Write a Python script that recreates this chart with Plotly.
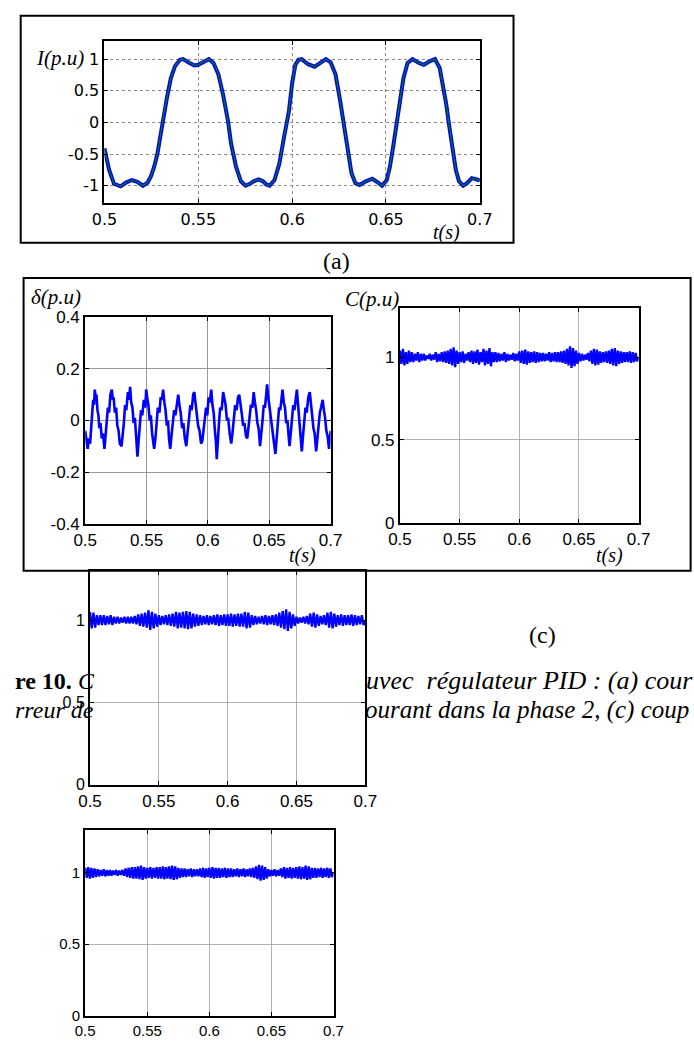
import numpy as np
import plotly.graph_objects as go

W, H = 694, 1057


def px(x):
    return x / W


def py(y):
    return 1 - y / H


# ---------------- data ----------------
# (a) phase current I (p.u)
I_T = [0.5000, 0.5025, 0.5051, 0.5086, 0.5115, 0.5145, 0.5175, 0.5205, 0.5230, 0.5248,
       0.5265, 0.5282, 0.5295, 0.5308, 0.5320, 0.5333, 0.5354, 0.5376, 0.5402, 0.5419,
       0.5453, 0.5479, 0.5500, 0.5521, 0.5556, 0.5581, 0.5595, 0.5607, 0.5632, 0.5658,
       0.5675, 0.5701, 0.5727, 0.5752, 0.5775, 0.5795, 0.5821, 0.5845, 0.5862, 0.5880,
       0.5906, 0.5932, 0.5957, 0.5983, 0.6000, 0.6017, 0.6034, 0.6051, 0.6085, 0.6120,
       0.6154, 0.6180, 0.6205, 0.6231, 0.6256, 0.6278, 0.6299, 0.6316, 0.6337, 0.6359,
       0.6393, 0.6427, 0.6462, 0.6479, 0.6504, 0.6521, 0.6538, 0.6556, 0.6573, 0.6593,
       0.6615, 0.6641, 0.6675, 0.6701, 0.6735, 0.6761, 0.6786, 0.6803, 0.6821, 0.6838,
       0.6855, 0.6872, 0.6889, 0.6911, 0.6932, 0.6957, 0.6983, 0.7000]
I_V = [-0.41, -0.75, -0.97, -1.01, -0.95, -0.91, -0.94, -1.00, -0.95, -0.85,
       -0.70, -0.50, -0.27, -0.01, 0.20, 0.39, 0.70, 0.89, 0.99, 1.00,
       0.94, 0.90, 0.91, 0.95, 1.00, 0.94, 0.86, 0.76, 0.44, 0.03,
       -0.34, -0.70, -0.93, -1.00, -0.97, -0.93, -0.90, -0.93, -0.98, -1.00,
       -0.91, -0.65, -0.23, 0.18, 0.62, 0.91, 0.99, 1.00, 0.92, 0.88,
       0.95, 1.00, 0.95, 0.76, 0.34, -0.08, -0.49, -0.80, -0.96, -0.99,
       -0.93, -0.89, -0.96, -1.00, -0.91, -0.70, -0.39, -0.02, 0.34, 0.70,
       0.94, 1.00, 0.94, 0.91, 0.97, 1.00, 0.86, 0.60, 0.29, -0.08,
       -0.44, -0.75, -0.93, -1.00, -0.96, -0.88, -0.90, -0.92]

# (b) current error delta (p.u)
DELTA_T = [0.5000, 0.5010, 0.5020, 0.5030, 0.5040, 0.5050, 0.5060, 0.5065, 0.5072, 0.5078,
           0.5085, 0.5092, 0.5100, 0.5108, 0.5115, 0.5125, 0.5135, 0.5145, 0.5157, 0.5165,
           0.5175, 0.5185, 0.5195, 0.5205, 0.5217, 0.5225, 0.5232, 0.5242, 0.5252, 0.5262,
           0.5272, 0.5282, 0.5296, 0.5305, 0.5315, 0.5325, 0.5335, 0.5348, 0.5358, 0.5366,
           0.5375, 0.5385, 0.5395, 0.5405, 0.5415, 0.5426, 0.5435, 0.5445, 0.5455, 0.5465,
           0.5478, 0.5490, 0.5497, 0.5505, 0.5515, 0.5525, 0.5535, 0.5545, 0.5562, 0.5572,
           0.5582, 0.5592, 0.5605, 0.5615, 0.5625, 0.5635, 0.5645, 0.5655, 0.5665, 0.5675,
           0.5683, 0.5693, 0.5703, 0.5713, 0.5725, 0.5735, 0.5748, 0.5758, 0.5768, 0.5778,
           0.5790, 0.5800, 0.5812, 0.5824, 0.5834, 0.5845, 0.5857, 0.5868, 0.5880, 0.5889,
           0.5899, 0.5909, 0.5920, 0.5932, 0.5944, 0.5954, 0.5964, 0.5975, 0.5985, 0.5995,
           0.6005, 0.6015, 0.6027, 0.6037, 0.6047, 0.6057, 0.6065, 0.6072, 0.6080, 0.6090,
           0.6100, 0.6112, 0.6124, 0.6134, 0.6144, 0.6155, 0.6165, 0.6177, 0.6190, 0.6200,
           0.6210, 0.6222, 0.6234, 0.6245, 0.6255, 0.6265, 0.6275, 0.6287, 0.6298, 0.6310,
           0.6320, 0.6330, 0.6340, 0.6350, 0.6362, 0.6373, 0.6383, 0.6393, 0.6403, 0.6413,
           0.6425, 0.6435, 0.6445, 0.6455, 0.6465, 0.6475, 0.6482, 0.6492, 0.6502, 0.6512,
           0.6522, 0.6535, 0.6550, 0.6560, 0.6570, 0.6580, 0.6590, 0.6600, 0.6608, 0.6618,
           0.6628, 0.6638, 0.6648, 0.6656, 0.6665, 0.6675, 0.6685, 0.6695, 0.6705, 0.6715,
           0.6725, 0.6733, 0.6741, 0.6750, 0.6758, 0.6765, 0.6775, 0.6785, 0.6795, 0.6805,
           0.6818, 0.6830, 0.6840, 0.6850, 0.6860, 0.6870, 0.6882, 0.6892, 0.6902, 0.6912,
           0.6922, 0.6935, 0.6945, 0.6955, 0.6965, 0.6975, 0.6987, 0.6995, 0.7000]
DELTA_V = [-0.04, -0.08, -0.11, -0.07, -0.09, -0.02, 0.04, 0.08, 0.06, 0.12,
           0.09, 0.10, 0.04, 0.02, -0.03, -0.01, -0.07, -0.05, -0.11, -0.07,
           -0.02, 0.05, 0.03, 0.10, 0.12, 0.08, 0.09, 0.03, 0.05, -0.02,
           -0.04, -0.09, -0.10, -0.06, -0.01, 0.06, 0.04, 0.11, 0.08, 0.13,
           0.07, 0.05, -0.01, 0.01, -0.06, -0.14, -0.08, -0.03, 0.04, 0.02,
           0.08, 0.05, 0.12, 0.09, 0.06, 0.00, 0.02, -0.05, -0.11, -0.07,
           -0.01, 0.05, 0.03, 0.09, 0.08, 0.12, 0.07, 0.04, -0.02, 0.00,
           -0.07, -0.11, -0.06, 0.00, 0.04, 0.02, 0.08, 0.10, 0.06, 0.03,
           -0.03, -0.01, -0.07, -0.10, -0.05, 0.01, 0.06, 0.04, 0.10, 0.11,
           0.07, 0.04, -0.02, -0.04, -0.09, -0.08, -0.03, 0.03, 0.05, 0.02,
           0.09, 0.07, 0.12, 0.06, 0.03, -0.04, -0.08, -0.15, -0.06, -0.01,
           0.05, 0.04, 0.11, 0.08, 0.06, 0.00, 0.01, -0.05, -0.09, -0.05,
           0.01, 0.06, 0.04, 0.09, 0.10, 0.05, 0.03, -0.02, -0.01, -0.06,
           -0.07, -0.03, 0.03, 0.06, 0.05, 0.11, 0.07, 0.04, -0.01, -0.03,
           -0.10, -0.06, 0.00, 0.06, 0.05, 0.10, 0.14, 0.09, 0.05, 0.00,
           -0.02, -0.08, -0.13, -0.07, -0.01, 0.05, 0.04, 0.09, 0.12, 0.07,
           0.05, -0.01, 0.00, -0.05, -0.10, -0.05, 0.01, 0.06, 0.04, 0.09,
           0.12, 0.07, 0.03, -0.03, -0.06, -0.12, -0.06, 0.00, 0.05, 0.03,
           0.09, 0.11, 0.06, 0.02, -0.03, -0.05, -0.12, -0.07, -0.01, 0.03,
           0.05, 0.08, 0.04, 0.01, -0.04, -0.06, -0.11, -0.06, -0.04]

# (c) torque C (p.u) -- three copies, sampled every 1.25 ms
T_C = np.linspace(0.5, 0.7, 161)
C1_V = [1.04, 0.96, 1.05, 0.95, 1.03, 0.96, 1.04, 0.97,
        1.03, 0.97, 1.02, 0.98, 1.03, 0.97, 1.02, 0.98,
        1.02, 0.98, 1.01, 0.99, 1.02, 0.98, 1.015, 0.985,
        1.03, 0.97, 1.02, 0.975, 1.03, 0.97, 1.035, 0.965,
        1.04, 0.96, 1.05, 0.95, 1.06, 0.94, 1.04, 0.96,
        1.03, 0.97, 1.035, 0.965, 1.02, 0.98, 1.03, 0.97,
        1.04, 0.96, 1.035, 0.965, 1.045, 0.955, 1.03, 0.97,
        1.05, 0.95, 1.04, 0.96, 1.055, 0.945, 1.03, 0.97,
        1.03, 0.97, 1.025, 0.975, 1.02, 0.98, 1.03, 0.97,
        1.02, 0.98, 1.015, 0.985, 1.025, 0.975, 1.02, 0.98,
        1.035, 0.965, 1.04, 0.96, 1.045, 0.955, 1.035, 0.965,
        1.03, 0.97, 1.035, 0.965, 1.03, 0.97, 1.025, 0.975,
        1.025, 0.975, 1.02, 0.98, 1.03, 0.97, 1.025, 0.975,
        1.03, 0.97, 1.03, 0.97, 1.035, 0.965, 1.04, 0.96,
        1.05, 0.95, 1.065, 0.935, 1.055, 0.945, 1.04, 0.96,
        1.025, 0.975, 1.02, 0.98, 1.015, 0.985, 1.025, 0.975,
        1.04, 0.96, 1.05, 0.95, 1.045, 0.955, 1.035, 0.965,
        1.03, 0.97, 1.035, 0.965, 1.04, 0.96, 1.05, 0.95,
        1.055, 0.945, 1.04, 0.96, 1.035, 0.965, 1.03, 0.97,
        1.03, 0.97, 1.035, 0.965, 1.03, 0.97, 1.025, 0.975,
        1.0]
C2_V = [1.05, 0.95, 1.045, 0.955, 1.03, 0.97, 1.03, 0.97,
        1.03, 0.97, 1.025, 0.975, 1.03, 0.97, 1.02, 0.98,
        1.02, 0.98, 1.015, 0.985, 1.02, 0.98, 1.02, 0.98,
        1.02, 0.98, 1.025, 0.975, 1.035, 0.965, 1.04, 0.96,
        1.045, 0.955, 1.06, 0.94, 1.05, 0.95, 1.04, 0.96,
        1.03, 0.97, 1.025, 0.975, 1.03, 0.97, 1.035, 0.965,
        1.04, 0.96, 1.05, 0.95, 1.045, 0.955, 1.05, 0.95,
        1.055, 0.945, 1.05, 0.95, 1.04, 0.96, 1.035, 0.965,
        1.03, 0.97, 1.025, 0.975, 1.03, 0.97, 1.025, 0.975,
        1.03, 0.97, 1.035, 0.965, 1.03, 0.97, 1.035, 0.965,
        1.035, 0.965, 1.04, 0.96, 1.035, 0.965, 1.04, 0.96,
        1.04, 0.96, 1.05, 0.95, 1.045, 0.955, 1.03, 0.97,
        1.025, 0.975, 1.02, 0.98, 1.025, 0.975, 1.03, 0.97,
        1.025, 0.975, 1.03, 0.97, 1.035, 0.965, 1.045, 0.955,
        1.055, 0.945, 1.065, 0.935, 1.05, 0.95, 1.035, 0.965,
        1.02, 0.98, 1.015, 0.985, 1.02, 0.98, 1.025, 0.975,
        1.04, 0.96, 1.045, 0.955, 1.035, 0.965, 1.025, 0.975,
        1.03, 0.97, 1.045, 0.955, 1.05, 0.95, 1.04, 0.96,
        1.03, 0.97, 1.035, 0.965, 1.03, 0.97, 1.03, 0.97,
        1.035, 0.965, 1.03, 0.97, 1.025, 0.975, 1.03, 0.97,
        1.0]
C3_V = [1.035, 0.965, 1.04, 0.96, 1.035, 0.965, 1.03, 0.97,
        1.025, 0.975, 1.02, 0.98, 1.025, 0.975, 1.02, 0.98,
        1.02, 0.98, 1.015, 0.985, 1.02, 0.98, 1.015, 0.985,
        1.02, 0.98, 1.03, 0.97, 1.035, 0.965, 1.04, 0.96,
        1.04, 0.96, 1.045, 0.955, 1.05, 0.95, 1.04, 0.96,
        1.035, 0.965, 1.04, 0.96, 1.035, 0.965, 1.04, 0.96,
        1.04, 0.96, 1.045, 0.955, 1.04, 0.96, 1.045, 0.955,
        1.05, 0.95, 1.045, 0.955, 1.035, 0.965, 1.03, 0.97,
        1.03, 0.97, 1.025, 0.975, 1.03, 0.97, 1.025, 0.975,
        1.025, 0.975, 1.03, 0.97, 1.035, 0.965, 1.03, 0.97,
        1.035, 0.965, 1.04, 0.96, 1.035, 0.965, 1.035, 0.965,
        1.03, 0.97, 1.035, 0.965, 1.03, 0.97, 1.03, 0.97,
        1.025, 0.975, 1.03, 0.97, 1.025, 0.975, 1.03, 0.97,
        1.025, 0.975, 1.03, 0.97, 1.035, 0.965, 1.045, 0.955,
        1.055, 0.945, 1.05, 0.95, 1.04, 0.96, 1.025, 0.975,
        1.02, 0.98, 1.025, 0.975, 1.02, 0.98, 1.03, 0.97,
        1.04, 0.96, 1.035, 0.965, 1.04, 0.96, 1.035, 0.965,
        1.04, 0.96, 1.045, 0.955, 1.04, 0.96, 1.05, 0.95,
        1.045, 0.955, 1.035, 0.965, 1.035, 0.965, 1.03, 0.97,
        1.035, 0.965, 1.03, 0.97, 1.035, 0.965, 1.03, 0.97,
        1.0]

X_TICKS = [0.5, 0.55, 0.6, 0.65, 0.7]
X_TICK_TEXT = ["0.5", "0.55", "0.6", "0.65", "0.7"]
I_TICKS = [-1, -0.5, 0, 0.5, 1]
I_TICK_TEXT = ["-1", "-0.5", "0", "0.5", "1"]
DELTA_TICKS = [-0.4, -0.2, 0, 0.2, 0.4]
DELTA_TICK_TEXT = ["-0.4", "-0.2", "0", "0.2", "0.4"]
C_TICKS = [0, 0.5, 1]
C_TICK_TEXT = ["0", "0.5", "1"]

BLUE = "#0000ff"
GREEN = "#008000"

# ---------------- figure ----------------
fig = go.Figure()
fig.add_trace(go.Scatter(x=I_T, y=I_V, mode="lines", line=dict(color=BLUE, width=4),
                         xaxis="x", yaxis="y", hoverinfo="skip"))
fig.add_trace(go.Scatter(x=I_T, y=I_V, mode="lines", line=dict(color=GREEN, width=1.2),
                         xaxis="x", yaxis="y", hoverinfo="skip"))
fig.add_trace(go.Scatter(x=DELTA_T, y=DELTA_V, mode="lines", line=dict(color=BLUE, width=2.6),
                         xaxis="x2", yaxis="y2", hoverinfo="skip"))
for i, vals in enumerate([C1_V, C2_V, C3_V]):
    fig.add_trace(go.Scatter(x=T_C, y=vals, mode="lines", line=dict(color=BLUE, width=2.3),
                             xaxis="x%d" % (i + 3), yaxis="y%d" % (i + 3), hoverinfo="skip"))


def ax(domain, rng, vals, text, font, anchor, grid="#a0a0a0", dash="solid", gw=0.8):
    return dict(domain=domain, range=rng, tickvals=vals, ticktext=text, tickfont=font,
                showgrid=True, gridcolor=grid, griddash=dash, gridwidth=gw,
                showline=True, linecolor="black", linewidth=2, mirror="ticks",
                ticks="inside", ticklen=4, tickcolor="black", tickwidth=1,
                zeroline=False, anchor=anchor, fixedrange=True)


F_A = dict(family="DejaVu Sans", size=16, color="black")
F_B = dict(family="Liberation Sans", size=17, color="black")
F_C2X = dict(family="Liberation Sans", size=17, color="black")
F_C2Y = dict(family="Liberation Sans", size=16, color="black")
F_C3 = dict(family="Liberation Sans Narrow, Liberation Sans", size=15, color="black")

XR = [0.5, 0.7]
A_GRID = dict(grid="#8a8a8a", dash="dot", gw=1)
layout_axes = dict(
    xaxis=ax([px(95), px(485)], XR, X_TICKS, X_TICK_TEXT, F_A, "y", **A_GRID),
    yaxis=ax([py(198), py(33)], [-1.28, 1.28], I_TICKS, I_TICK_TEXT, F_A, "x", **A_GRID),
    xaxis2=ax([px(75), px(330)], XR, X_TICKS, X_TICK_TEXT, F_B, "y2", grid="#808080"),
    yaxis2=ax([py(524), py(314)], [-0.4, 0.4], DELTA_TICKS, DELTA_TICK_TEXT, F_B, "x2", grid="#808080"),
    xaxis3=ax([px(402), px(650)], XR, X_TICKS, X_TICK_TEXT, F_B, "y3"),
    yaxis3=ax([py(523), py(304)], [0, 1.3], C_TICKS, C_TICK_TEXT, F_B, "x3"),
    xaxis4=ax([px(80), px(366)], XR, X_TICKS, X_TICK_TEXT, F_C2X, "y4"),
    yaxis4=ax([py(790), py(572)], [0, 1.3], C_TICKS, C_TICK_TEXT, F_C2Y, "x4"),
    xaxis5=ax([px(75), px(333)], XR, X_TICKS, X_TICK_TEXT, F_C3, "y5"),
    yaxis5=ax([py(1025), py(836)], [0, 1.3], C_TICKS, C_TICK_TEXT, F_C3, "x5"),
)

SERIF = "Liberation Serif, Times New Roman, serif"


def note(text, x, y, size, xanchor="center", yanchor="middle"):
    return dict(text=text, x=px(x), y=py(y), xref="paper", yref="paper",
                xanchor=xanchor, yanchor=yanchor, showarrow=False,
                font=dict(family=SERIF, size=size, color="black"))


annotations = [
    note("<i>I(p.u)</i>", 76, 50, 21, xanchor="right"),
    note("<i>t(s)</i>", 450, 228, 20),
    note("(a)", 336, 257, 24),
    note("<i>δ(p.u)</i>", 17, 293, 21, xanchor="left"),
    note("<i>C(p.u)</i>", 343, 295, 21, xanchor="left"),
    note("<i>t(s)</i>", 301, 557, 20),
    note("<i>t(s)</i>", 620, 557, 20),
    note("(c)", 550, 637, 24),
    note("<b>re 10. </b><i>C</i>", 0, 684, 24, xanchor="left"),
    note("<i>uvec  régulateur PID : (a) cour</i>", 365, 684, 26, xanchor="left"),
    note("<i>rreur de</i>", 0, 714, 24, xanchor="left"),
    note("<i>ourant dans la phase 2, (c) coup</i>", 364, 714, 25, xanchor="left"),
]

shapes = [
    dict(type="rect", xref="paper", yref="paper", x0=px(8), x1=px(520), y0=py(238), y1=py(7),
         line=dict(color="black", width=2), layer="below"),
    dict(type="rect", xref="paper", yref="paper", x0=px(11), x1=px(704), y0=py(572), y1=py(274),
         line=dict(color="black", width=2), layer="below"),
]

fig.update_layout(
    width=W, height=H, margin=dict(l=0, r=0, t=0, b=0),
    paper_bgcolor="white", plot_bgcolor="white", showlegend=False,
    annotations=annotations, shapes=shapes, **layout_axes,
)

fig.write_html("out.html", config={"staticPlot": True},
               post_script="document.body.style.margin='0';")
